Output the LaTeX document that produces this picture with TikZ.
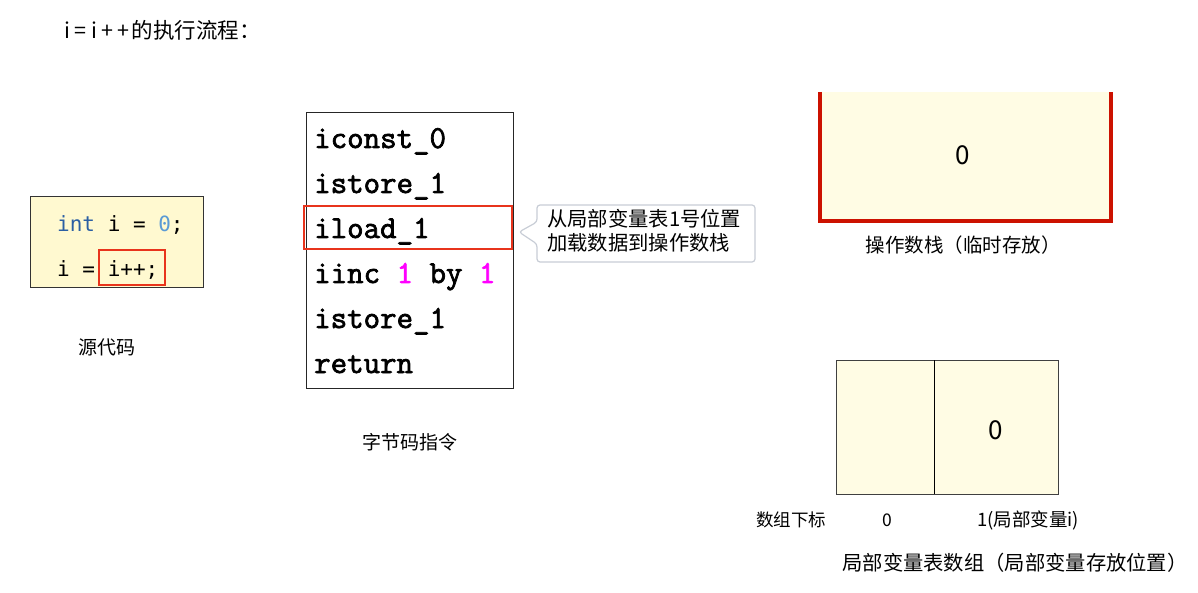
\documentclass[tikz,border=0pt]{standalone}
\usepackage{fontspec}
\setmainfont{Noto Sans CJK SC}
\newfontfamily\codefont{DejaVu Sans Mono}
\newfontfamily\bcfont[FakeBold=2.2]{Latin Modern Mono}
\newcommand{\fsz}[1]{\fontsize{#1}{#1}\selectfont}
\definecolor{srcfill}{HTML}{FFF9D0}
\definecolor{pale}{HTML}{FFFCE4}
\definecolor{kwblue}{HTML}{2B5FA3}
\definecolor{numblue}{HTML}{5B9BD5}
\definecolor{hlred}{HTML}{E8341C}
\definecolor{stackred}{HTML}{CC1100}
\definecolor{magen}{HTML}{FF00FF}
\definecolor{calloutgray}{HTML}{C8CDD6}
\begin{document}
\begin{tikzpicture}[x=1pt,y=-1pt,
  box/.style={anchor=north west, inner sep=0pt, outer sep=0pt},
  bcline/.style={anchor=base west, inner sep=0pt, font=\bcfont\fsz{32}},
  codeline/.style={anchor=base west, inner sep=0pt, font=\codefont\fsz{21}},
  lbl/.style={inner sep=0pt, font=\fsz{19.5}},
  hl/.style={box, draw=hlred, line width=1.3pt}]
\useasboundingbox (0,0) rectangle (1198,593);
\fill[white] (0,0) rectangle (1198,593);

% title
\node[lbl, anchor=west, font=\fsz{21.5}] (title) at (64,30) {i\kern4.5pt=\kern4.5pt i\kern4.5pt+\kern4.5pt+\kern2pt 的执行流程：};

% source code
\node[box, draw=black!80, line width=1pt, fill=srcfill, minimum width=173pt, minimum height=91pt] (src) at (30,197) {};
\node[codeline] (l1) at (57,232) {\textcolor{kwblue}{int} i = \textcolor{numblue}{0};};
\node[codeline] (l2) at (57,277) {i = i++;};
\node[hl, minimum width=66pt, minimum height=35pt] (hlsrc) at (99,250) {};
\node[lbl, font=\fsz{19}] (srclbl) at (107,347) {源代码};

% bytecode
\node[box, draw=black!85, line width=1pt, fill=white, minimum width=207pt, minimum height=275pt] (bc) at (306,113) {};
\node[bcline] (b1) at (314,148) {iconst\_0};
\node[bcline] (b2) at (314,193) {istore\_1};
\node[bcline] (b3) at (314,238) {iload\_1};
\node[bcline] (b4) at (314,283) {iinc \textcolor{magen}{1} by \textcolor{magen}{1}};
\node[bcline] (b5) at (314,328) {istore\_1};
\node[bcline] (b6) at (314,373) {return};
\node[hl, minimum width=208pt, minimum height=43pt] (hlbc) at (304,206) {};
\node[lbl, font=\fsz{19}] (bclbl) at (410,442) {字节码指令};

% callout
\draw[draw=calloutgray, line width=1.2pt, fill=white, rounded corners=3pt]
  (537,205) -- (755,205) -- (755,262) -- (537,262) -- (537,244) -- (519,232) -- (537,222) -- cycle;
\node[lbl, anchor=north west, align=left, font=\fsz{20.3}] (call) at (547,209)
  {从局部变量表1号位置\\[4pt]加载数据到操作数栈};

% operand stack
\fill[pale] (818,92) rectangle (1113,222);
\draw[stackred, line width=4pt] (820,92) -- (820,221) -- (1111,221) -- (1111,92);
\node[lbl, font=\fsz{26}] (stk0) at (963,155) {0};
\node[lbl] (stklbl) at (963,245) {操作数栈（临时存放）};

% local variable table
\node[box, draw=black!75, line width=1pt, fill=pale, minimum width=222pt, minimum height=134pt] (tbl) at (836,360) {};
\draw[black, line width=1pt] (934,360) -- (934,494);
\node[lbl, font=\fsz{26}] (tbl0) at (996,430) {0};
\node[lbl, font=\fsz{17.5}, anchor=west] (idx) at (756,520) {数组下标};
\node[lbl, font=\fsz{17.5}] (idx0) at (887,520) {0};
\node[lbl, font=\fsz{18.5}, anchor=west] (idx1) at (977,520) {1(局部变量i)};
\node[lbl, font=\fsz{20.3}] (tbllbl) at (1015,563) {局部变量表数组（局部变量存放位置）};
\end{tikzpicture}
\end{document}
